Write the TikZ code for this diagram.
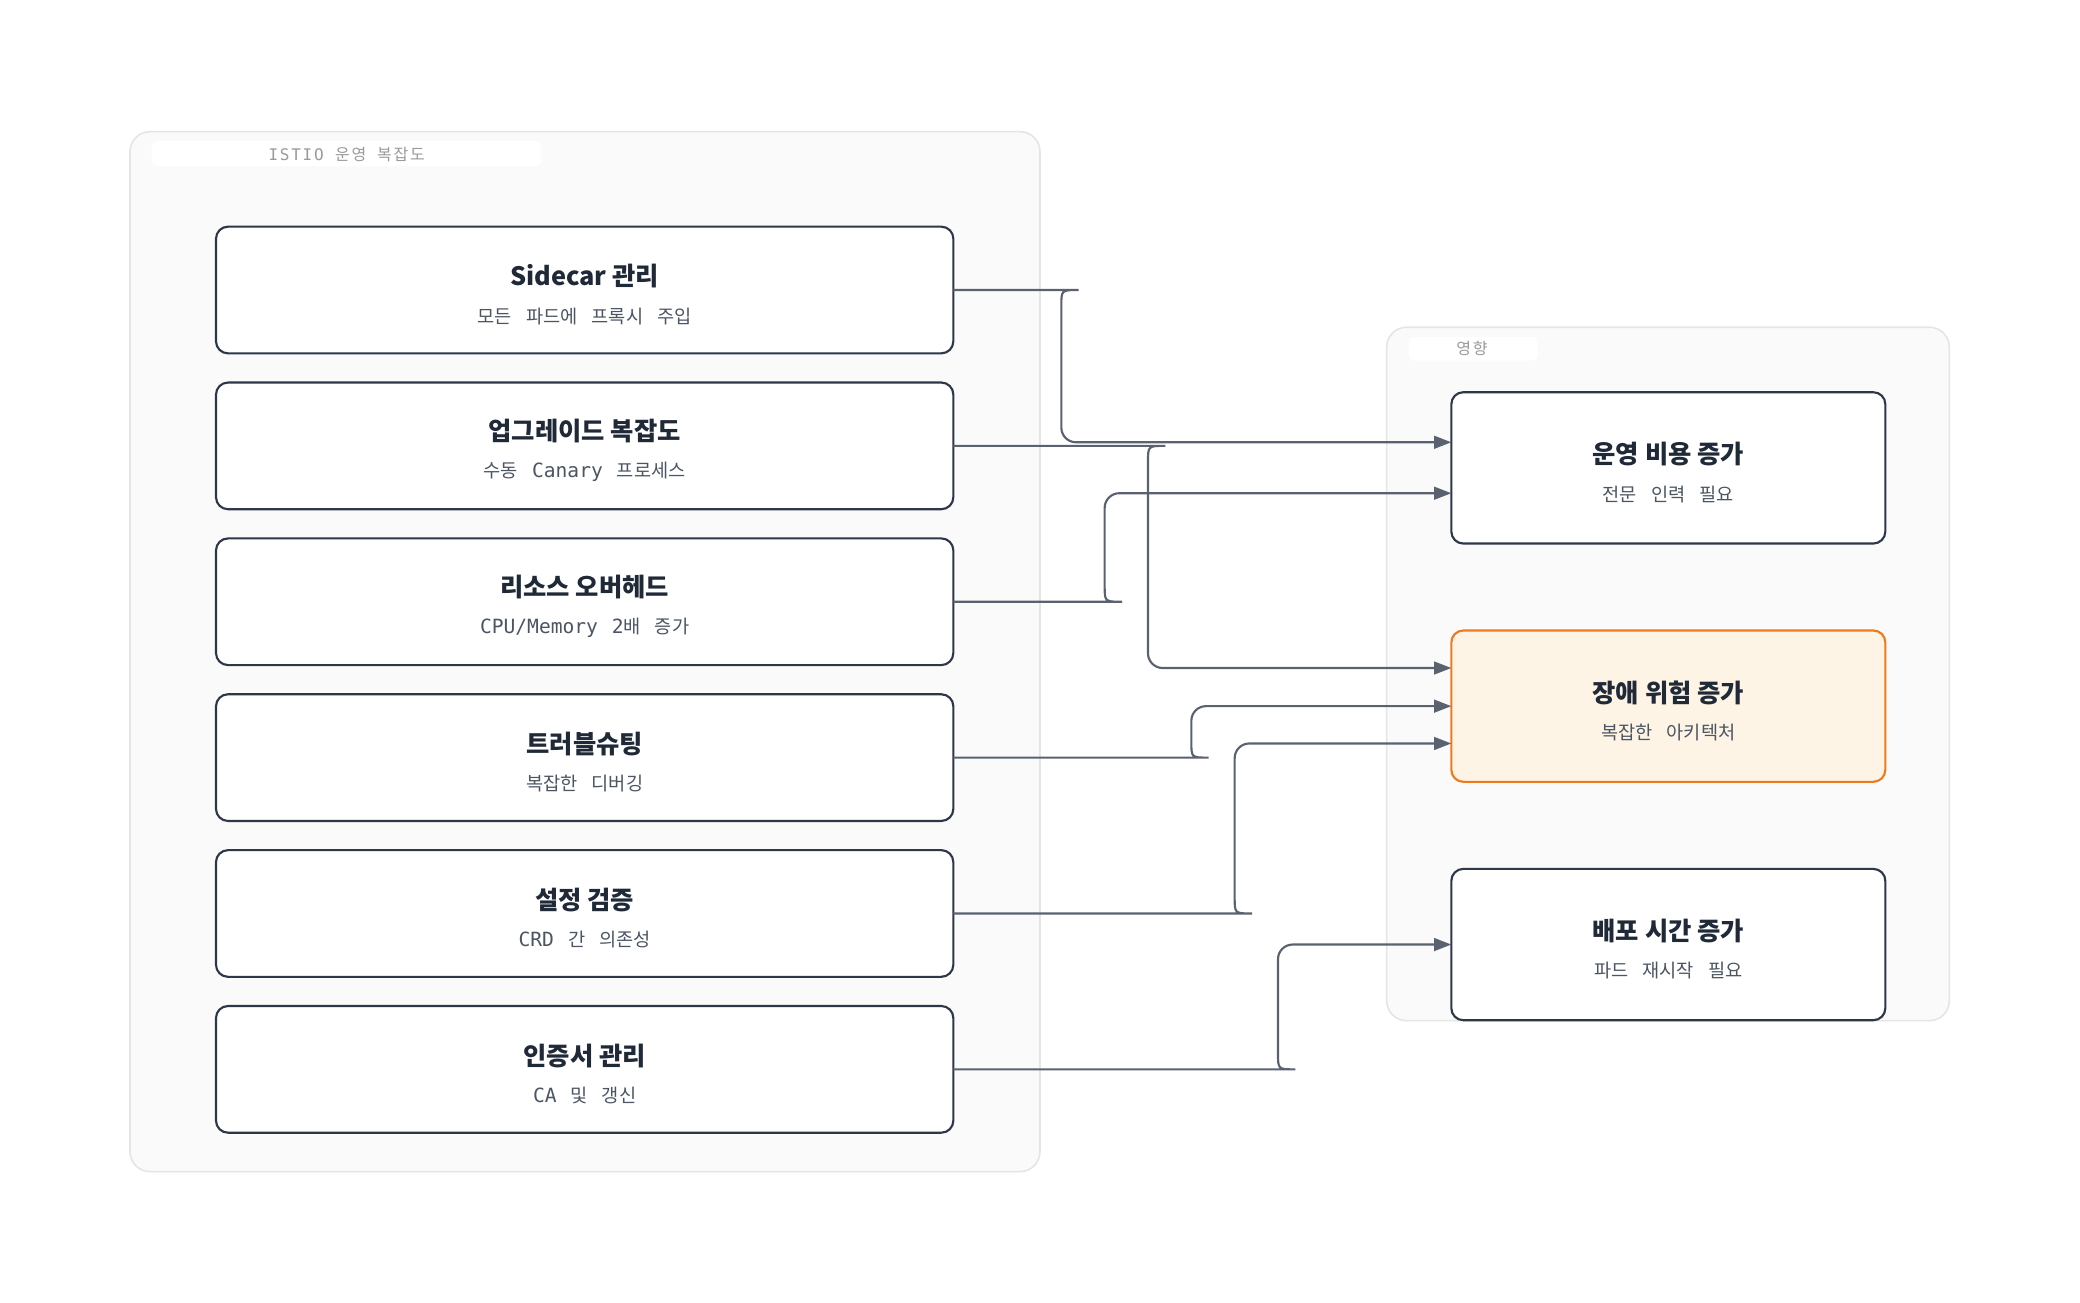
\documentclass[tikz,border=0pt]{standalone}
\usepackage{fontspec}
\setmainfont{Noto Sans CJK KR}
\newfontfamily\subfont{Noto Sans CJK KR}
\newfontfamily\latmono{DejaVu Sans Mono}[Scale=1.05]
\newfontfamily\tagfont{Noto Sans CJK KR}[LetterSpace=11,WordSpace=2]
\newfontfamily\tagmono{DejaVu Sans Mono}[LetterSpace=11]
\usetikzlibrary{arrows.meta}

\definecolor{cBorder}{HTML}{2D3748}
\definecolor{cTitle}{HTML}{1F2937}
\definecolor{cSub}{HTML}{4B5563}
\definecolor{cEdge}{HTML}{5A6270}
\definecolor{cZone}{HTML}{FAFAFA}
\definecolor{cZoneLine}{HTML}{E5E5E5}
\definecolor{cTag}{HTML}{999999}
\definecolor{cRisk}{HTML}{EE7B1B}
\definecolor{cRiskFill}{HTML}{FEF4E5}

\newcommand{\ttl}[1]{\rule{0pt}{11.5pt}#1}
\newcommand{\subtxt}[1]{{\subfont\mdseries\fontsize{7}{9}\selectfont\spaceskip=0.75em\color{cSub}#1}}

\begin{document}
\begin{tikzpicture}
         [x=0.5pt,y=-0.5pt,
          zone/.style={fill=cZone,draw=cZoneLine,line width=0.6pt,rounded corners=7.5pt},
          tag/.style={fill=white,rounded corners=2pt},
          lbox/.style={draw=cBorder,fill=white,line width=0.8pt,rounded corners=4.5pt,outer sep=0pt,inner sep=0pt,
                       align=center,text=cTitle,minimum width=276.5pt,minimum height=47.5pt,
                       font=\fontsize{9.5}{14}\selectfont\bfseries},
          rbox/.style={lbox,minimum width=162.75pt,minimum height=56.75pt},
          flow/.style={draw=cEdge,line width=0.8pt,-{Triangle[length=6.5pt,width=4.8pt]}}]

         \fill[white] (0,0) rectangle (1560,976.5);

         % groups
         \draw[zone] (97.5,98.75) rectangle (780,878.7);
         \draw[zone] (1040,245.4) rectangle (1462,765.5);
         \fill[tag] (113.75,105.5) rectangle (406,124.5);
         \fill[tag] (1056.5,252.6) rectangle (1153.3,270.4);
         \node[text=cTag,font=\fontsize{6}{7}\selectfont] (nIstioTag) at (260,116) {{\tagmono ISTIO }{\tagfont 운영 복잡도}};
         \node[text=cTag,font=\fontsize{6}{7}\selectfont\tagfont] (nImpactTag) at (1104,261.5) {영향};

         % left column
         \node[lbox] (nSidecar)  at (438.5,217.5) {\ttl{Sidecar 관리}\\\subtxt{모든 파드에 프록시 주입}};
         \node[lbox] (nUpgrade)  at (438.5,334.4) {\ttl{업그레이드 복잡도}\\\subtxt{수동 {\latmono Canary} 프로세스}};
         \node[lbox] (nOverhead) at (438.5,451.3) {\ttl{리소스 오버헤드}\\\subtxt{{\latmono CPU/Memory 2}배 증가}};
         \node[lbox] (nDebug)    at (438.5,568.2) {\ttl{트러블슈팅}\\\subtxt{복잡한 디버깅}};
         \node[lbox] (nConfig)   at (438.5,685.1) {\ttl{설정 검증}\\\subtxt{{\latmono CRD} 간 의존성}};
         \node[lbox] (nCert)     at (438.5,802)   {\ttl{인증서 관리}\\\subtxt{{\latmono CA} 및 갱신}};

         % right column
         \node[rbox] (nCost)   at (1251.25,350.9) {\ttl{운영 비용 증가}\\\subtxt{전문 인력 필요}};
         \node[rbox,draw=cRisk,fill=cRiskFill] (nRisk) at (1251.25,529.6) {\ttl{장애 위험 증가}\\\subtxt{복잡한 아키텍처}};
         \node[rbox] (nDeploy) at (1251.25,708.4) {\ttl{배포 시간 증가}\\\subtxt{파드 재시작 필요}};

         \foreach \from/\to/\fy/\bx/\hy/\dy in {nSidecar/nCost/217.5/796/229.5/9.6,
                                               nUpgrade/nRisk/334.4/861/346.4/14.3,
                                               nOverhead/nCost/451.3/828.5/439.3/-9.5,
                                               nDebug/nRisk/568.2/893.5/556.2/0,
                                               nConfig/nRisk/685.1/926/673.1/-14,
                                               nCert/nDeploy/802/958.5/790/0}
             \draw[flow] (\from.east) -- (\bx+13,\fy) .. controls (\bx,\fy) .. (\bx,\hy)
                 [rounded corners=5.5pt] |- ([yshift=\dy pt]\to.west);

     \end{tikzpicture}
\end{document}
